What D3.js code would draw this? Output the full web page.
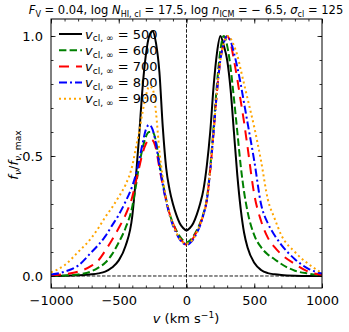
<!DOCTYPE html>
<html>
<head>
<meta charset="utf-8">
<script src="https://cdn.jsdelivr.net/npm/d3@7"></script>
<style>
  html, body { margin: 0; padding: 0; background: #fff; }
  svg { display: block; font-family: "DejaVu Sans", sans-serif; }
</style>
</head>
<body>
<svg id="chart" width="349" height="332"></svg>
<script>
// ---- data ----
const velocity = [-1000, -900, -800, -700, -650, -600, -550, -500, -450, -400, -375, -350, -325, -300, -275, -250, -225, -200, -175, -150, -125, -100, -75, -50, -25,
  0, 25, 50, 75, 100, 125, 150, 175, 200, 225, 250, 275, 300, 325, 350, 375, 400, 425, 450, 500, 550, 600, 650, 700, 800, 900, 1000];

const f500 = [0, 0.001, 0.003, 0.007, 0.011, 0.018, 0.035, 0.065, 0.125, 0.25, 0.4, 0.58, 0.78, 0.92, 1.0, 1.02, 0.97, 0.85, 0.62, 0.45, 0.36, 0.3, 0.255, 0.22, 0.2,
  0.19, 0.2, 0.22, 0.255, 0.3, 0.36, 0.46, 0.6, 0.79, 0.93, 1.0, 0.96, 0.9, 0.78, 0.6, 0.42, 0.28, 0.18, 0.12, 0.055, 0.025, 0.012, 0.007, 0.004, 0.001, 0, 0];

const f600 = [0, 0.002, 0.006, 0.02, 0.035, 0.055, 0.09, 0.14, 0.2, 0.29, 0.37, 0.46, 0.53, 0.58, 0.6, 0.6, 0.56, 0.47, 0.39, 0.32, 0.26, 0.22, 0.19, 0.165, 0.148,
  0.14, 0.148, 0.165, 0.19, 0.22, 0.26, 0.32, 0.45, 0.62, 0.8, 0.94, 1.0, 0.96, 0.87, 0.74, 0.6, 0.46, 0.35, 0.27, 0.17, 0.12, 0.09, 0.07, 0.05, 0.022, 0.01, 0.002];

const f700 = [0.002, 0.008, 0.018, 0.043, 0.065, 0.105, 0.15, 0.2, 0.255, 0.33, 0.39, 0.45, 0.51, 0.55, 0.57, 0.565, 0.53, 0.45, 0.38, 0.315, 0.26, 0.22, 0.185, 0.158, 0.14,
  0.13, 0.14, 0.158, 0.185, 0.215, 0.255, 0.315, 0.44, 0.6, 0.77, 0.9, 0.97, 1.0, 0.97, 0.9, 0.82, 0.73, 0.64, 0.54, 0.34, 0.23, 0.16, 0.12, 0.09, 0.05, 0.018, 0.005];

const f800 = [0.006, 0.018, 0.043, 0.1, 0.13, 0.165, 0.21, 0.255, 0.31, 0.375, 0.42, 0.48, 0.55, 0.61, 0.63, 0.61, 0.55, 0.46, 0.38, 0.31, 0.255, 0.21, 0.178, 0.152, 0.137,
  0.13, 0.137, 0.152, 0.178, 0.21, 0.255, 0.315, 0.44, 0.6, 0.77, 0.9, 0.97, 1.0, 0.98, 0.93, 0.87, 0.8, 0.72, 0.64, 0.48, 0.3, 0.22, 0.17, 0.13, 0.07, 0.03, 0.01];

const f900 = [0.015, 0.045, 0.1, 0.16, 0.2, 0.245, 0.285, 0.33, 0.38, 0.46, 0.53, 0.6, 0.68, 0.75, 0.79, 0.78, 0.68, 0.52, 0.41, 0.32, 0.26, 0.215, 0.18, 0.155, 0.14,
  0.135, 0.14, 0.155, 0.18, 0.215, 0.26, 0.32, 0.44, 0.6, 0.77, 0.9, 0.97, 1.0, 0.99, 0.96, 0.92, 0.86, 0.8, 0.74, 0.62, 0.48, 0.32, 0.24, 0.17, 0.1, 0.05, 0.012];

const seriesLabels = ["500", "600", "700", "800", "900"];
const xTicks = [-1000, -500, 0, 500, 1000];
const yTicks = [0.0, 0.5, 1.0];
const yTickLabels = ["0.0", "0.5", "1.0"];

// ---- styles ----
const seriesData = [f500, f600, f700, f800, f900];
const colors = ["#000000", "#008000", "#ff0000", "#0000ff", "#ffa500"];
const dashes = [null, "7.4,3.2", "10,7", "8,3,2,3", "2,3"];

const svg = d3.select("#chart");
const M = { left: 51, right: 322, top: 19, bottom: 288 };
const x = d3.scaleLinear().domain([-1000, 1000]).range([M.left, M.right]);
const y = d3.scaleLinear().domain([-0.05, 1.0708]).range([M.bottom, M.top]);

svg.append("defs").append("clipPath").attr("id", "clip")
  .append("rect").attr("x", M.left).attr("y", M.top)
  .attr("width", M.right - M.left).attr("height", M.bottom - M.top);

// dashed zero lines
const g0 = svg.append("g").attr("clip-path", "url(#clip)");
g0.append("line").attr("x1", x(-1000)).attr("x2", x(1000)).attr("y1", y(0)).attr("y2", y(0))
  .attr("stroke", "#000").attr("stroke-width", 0.9).attr("stroke-dasharray", "3.5,1.6");
g0.append("line").attr("x1", x(0)).attr("x2", x(0)).attr("y1", M.top).attr("y2", M.bottom)
  .attr("stroke", "#000").attr("stroke-width", 0.9).attr("stroke-dasharray", "3.5,1.6");

// curves
const line = d3.line().x((d, i) => x(velocity[i])).y(d => y(d)).curve(d3.curveMonotoneX);
const gc = svg.append("g").attr("clip-path", "url(#clip)");
seriesData.forEach((s, k) => {
  const p = gc.append("path").attr("d", line(s)).attr("fill", "none")
    .attr("stroke", colors[k]).attr("stroke-width", 2);
  if (dashes[k]) p.attr("stroke-dasharray", dashes[k]);
});

// axes (ticks inward)
const fmtX = d => (d < 0 ? "\u2212" + Math.abs(d) : String(d));
const xMinor = d3.range(-1000, 1001, 100);
const yMinor = d3.range(0, 1.0001, 0.1);

function addAxis(axis, transform, labels) {
  const g = svg.append("g").attr("transform", transform).call(axis);
  g.select(".domain").remove();
  g.selectAll("line").attr("stroke", "#000").attr("stroke-width", 0.8);
  if (!labels) g.selectAll("text").remove();
  return g;
}
const xb = addAxis(d3.axisBottom(x).tickValues(xTicks).tickFormat(fmtX).tickSizeInner(-4.5).tickSizeOuter(0).tickPadding(8),
  `translate(0,${M.bottom})`, true);
xb.selectAll("text").attr("font-size", 13).attr("font-family", "DejaVu Sans").attr("fill", "#000").attr("dy", "0.71em");
addAxis(d3.axisBottom(x).tickValues(xMinor).tickSizeInner(-2.5).tickSizeOuter(0).tickFormat(""), `translate(0,${M.bottom})`, false);
addAxis(d3.axisTop(x).tickValues(xTicks).tickSizeInner(-4.5).tickSizeOuter(0).tickFormat(""), `translate(0,${M.top})`, false);
addAxis(d3.axisTop(x).tickValues(xMinor).tickSizeInner(-2.5).tickSizeOuter(0).tickFormat(""), `translate(0,${M.top})`, false);
const yl = addAxis(d3.axisLeft(y).tickValues(yTicks).tickFormat((d, i) => yTickLabels[i]).tickSizeInner(-4.5).tickSizeOuter(0).tickPadding(8),
  `translate(${M.left},0)`, true);
yl.selectAll("text").attr("font-size", 13).attr("font-family", "DejaVu Sans").attr("fill", "#000");
addAxis(d3.axisLeft(y).tickValues(yMinor).tickSizeInner(-2.5).tickSizeOuter(0).tickFormat(""), `translate(${M.left},0)`, false);
addAxis(d3.axisRight(y).tickValues(yTicks).tickSizeInner(-4.5).tickSizeOuter(0).tickFormat(""), `translate(${M.right},0)`, false);
addAxis(d3.axisRight(y).tickValues(yMinor).tickSizeInner(-2.5).tickSizeOuter(0).tickFormat(""), `translate(${M.right},0)`, false);

// frame
svg.append("rect").attr("x", M.left).attr("y", M.top).attr("width", M.right - M.left).attr("height", M.bottom - M.top)
  .attr("fill", "none").attr("stroke", "#000").attr("stroke-width", 1);

// rich text helper: sub/sup tspans, baseline restored by following part
function rich(sel, parts, size) {
  let shift = 0;
  sel.selectAll("tspan").remove();
  parts.forEach(p => {
    const t = sel.append("tspan").text(p.t);
    let target = 0;
    if (p.sub) { t.attr("font-size", size * 0.7); target = size * 0.22; }
    else if (p.sup) { t.attr("font-size", size * 0.7); target = -size * 0.4; }
    if (p.i) t.attr("font-style", "italic");
    if (target !== shift) t.attr("dy", target - shift);
    shift = target;
  });
}

// title (font size fitted to the reference width)
const S = 13;
const titleParts = [
  { t: "F", i: true }, { t: "V", sub: true }, { t: " = 0.04, log " },
  { t: "N", i: true }, { t: "HI, cl", sub: true }, { t: " = 17.5, log " },
  { t: "n", i: true }, { t: "ICM", sub: true }, { t: " = \u2212 6.5, " },
  { t: "\u03c3", i: true }, { t: "cl", sub: true }, { t: " = 125" }
];
const title = svg.append("text").attr("x", 186).attr("y", 14).attr("text-anchor", "middle")
  .attr("font-size", S).attr("fill", "#000");
rich(title, titleParts, S);
const tw = title.node().getComputedTextLength();
if (tw > 315) {
  const S2 = S * 315 / tw;
  title.attr("font-size", S2);
  rich(title, titleParts, S2);
}

// x label
const xl = svg.append("text").attr("x", 186).attr("y", 323).attr("text-anchor", "middle")
  .attr("font-size", S).attr("fill", "#000");
rich(xl, [{ t: "v", i: true }, { t: " (km s" }, { t: "\u22121", sup: true }, { t: ")" }], S);

// y label
const ylab = svg.append("text").attr("transform", "translate(18,155) rotate(-90)").attr("text-anchor", "middle")
  .attr("font-size", S).attr("fill", "#000");
rich(ylab, [{ t: "f", i: true }, { t: "\u03bd", i: true, sub: true }, { t: "/" },
  { t: "f", i: true }, { t: "\u03bd", i: true, sub: true }, { t: ", max", sub: true }], S);

// legend
const lg = svg.append("g");
seriesLabels.forEach((lab, k) => {
  const yy = 34 + k * 16.2;
  const l = lg.append("line").attr("x1", 59).attr("x2", 82).attr("y1", yy).attr("y2", yy)
    .attr("stroke", colors[k]).attr("stroke-width", 2);
  if (dashes[k]) l.attr("stroke-dasharray", dashes[k]);
  const t = lg.append("text").attr("x", 85).attr("y", yy + 4.5).attr("font-size", S).attr("fill", "#000");
  rich(t, [{ t: "v", i: true }, { t: "cl, \u221e", sub: true }, { t: " = " + lab }], S);
});
</script>
</body>
</html>
